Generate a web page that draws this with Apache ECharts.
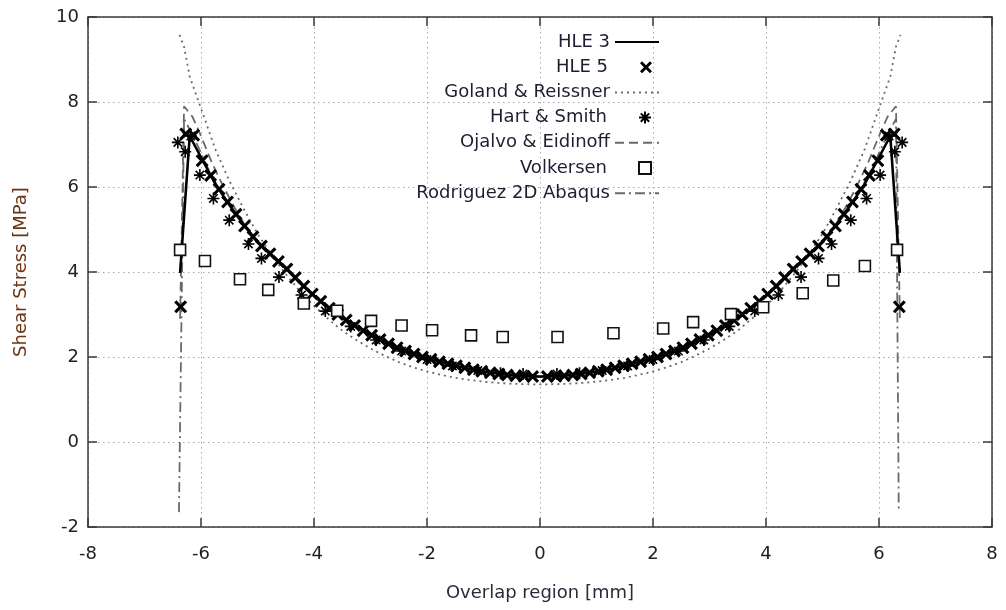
<!DOCTYPE html>
<html>
<head>
<meta charset="utf-8">
<script src="https://cdn.jsdelivr.net/npm/echarts@6/dist/echarts.min.js"></script>
<style>html,body{margin:0;padding:0;background:#fff}#c{width:1006px;height:610px}</style>
</head>
<body>
<div id="c"></div>
<script>
// ---- data ----
const xTicks = [-8, -6, -4, -2, 0, 2, 4, 6, 8];
const yTicks = [-2, 0, 2, 4, 6, 8, 10];

const hle3X = [-6.37,-6.2,-6.0,-5.75,-5.5,-5.25,-5.0,-4.75,-4.5,-4.25,-4.0,-3.75,-3.5,-3.25,-3.0,-2.75,-2.5,-2.25,-2.0,-1.75,-1.5,-1.25,-1.0,-0.75,-0.5,-0.25,0,
  0.25,0.5,0.75,1.0,1.25,1.5,1.75,2.0,2.25,2.5,2.75,3.0,3.25,3.5,3.75,4.0,4.25,4.5,4.75,5.0,5.25,5.5,5.75,6.0,6.2,6.37];
const hle3Y = [3.98,7.2,6.7,6.08,5.58,5.12,4.71,4.40,4.09,3.74,3.44,3.17,2.93,2.72,2.53,2.35,2.20,2.08,1.97,1.88,1.80,1.72,1.66,1.61,1.57,1.55,1.54,
  1.55,1.57,1.61,1.66,1.72,1.80,1.88,1.97,2.08,2.20,2.35,2.53,2.72,2.93,3.17,3.44,3.74,4.09,4.40,4.71,5.12,5.58,6.08,6.7,7.2,3.98];

const hle5X = [-6.36,-6.27,-6.13,-5.98,-5.83,-5.68,-5.53,-5.38,-5.23,-5.08,-4.93,-4.78,-4.63,-4.48,-4.33,-4.18,-4.03,-3.88,-3.73,-3.58,-3.43,-3.28,-3.13,-2.98,-2.83,-2.68,-2.53,-2.38,-2.23,-2.08,-1.93,-1.78,-1.63,-1.48,-1.33,-1.18,-1.03,-0.88,-0.73,-0.58,-0.43,-0.28,-0.13,
  0.13,0.28,0.43,0.58,0.73,0.88,1.03,1.18,1.33,1.48,1.63,1.78,1.93,2.08,2.23,2.38,2.53,2.68,2.83,2.98,3.13,3.28,3.43,3.58,3.73,3.88,4.03,4.18,4.33,4.48,4.63,4.78,4.93,5.08,5.23,5.38,5.53,5.68,5.83,5.98,6.13,6.27,6.36];
const hle5Y = [3.18,7.25,7.22,6.62,6.27,5.95,5.65,5.36,5.08,4.83,4.61,4.43,4.25,4.07,3.87,3.67,3.48,3.31,3.15,3.00,2.87,2.74,2.62,2.51,2.41,2.31,2.22,2.14,2.07,2.00,1.945,1.89,1.84,1.795,1.745,1.70,1.665,1.63,1.60,1.575,1.56,1.545,1.54,
  1.54,1.545,1.56,1.575,1.60,1.63,1.665,1.70,1.745,1.795,1.84,1.89,1.945,2.00,2.07,2.14,2.22,2.31,2.41,2.51,2.62,2.74,2.87,3.00,3.15,3.31,3.48,3.67,3.87,4.07,4.25,4.43,4.61,4.83,5.08,5.36,5.65,5.95,6.27,6.62,7.22,7.25,3.18];

const grX = [-6.38,-6.3,-6.2,-6.0,-5.75,-5.5,-5.25,-5.0,-4.75,-4.5,-4.25,-4.0,-3.75,-3.5,-3.25,-3.0,-2.75,-2.5,-2.25,-2.0,-1.75,-1.5,-1.25,-1.0,-0.75,-0.5,-0.25,0,
  0.25,0.5,0.75,1.0,1.25,1.5,1.75,2.0,2.25,2.5,2.75,3.0,3.25,3.5,3.75,4.0,4.25,4.5,4.75,5.0,5.25,5.5,5.75,6.0,6.2,6.3,6.38];
const grY = [9.58,9.3,8.6,7.85,6.9,6.15,5.5,4.9,4.4,3.95,3.55,3.2,2.9,2.62,2.4,2.2,2.03,1.88,1.76,1.66,1.58,1.51,1.46,1.42,1.39,1.37,1.36,1.355,
  1.36,1.37,1.39,1.42,1.46,1.51,1.58,1.66,1.76,1.88,2.03,2.2,2.4,2.62,2.9,3.2,3.55,3.95,4.4,4.9,5.5,6.15,6.9,7.85,8.6,9.3,9.58];

const hsX = [-6.41,-6.28,-6.18,-6.02,-5.78,-5.5,-5.16,-4.93,-4.62,-4.22,-3.8,-3.35,-2.9,-2.45,-2.0,-1.55,-1.1,-0.7,-0.3,
  0.3,0.7,1.1,1.55,2.0,2.45,2.9,3.35,3.8,4.22,4.62,4.93,5.16,5.5,5.78,6.02,6.18,6.28,6.41];
const hsY = [7.05,6.83,7.2,6.28,5.73,5.22,4.66,4.32,3.88,3.46,3.08,2.72,2.40,2.14,1.94,1.79,1.68,1.62,1.60,
  1.60,1.62,1.68,1.79,1.94,2.14,2.40,2.72,3.08,3.46,3.88,4.32,4.66,5.22,5.73,6.28,7.2,6.83,7.05];

const oeX = [-6.37,-6.3,-6.15,-6.0,-5.8,-5.6,-5.4,-5.2,-5.0,-4.5,-4.0,-3.5,-3.0,-2.5,-2.0,-1.5,-1.0,-0.5,0,
  0.5,1.0,1.5,2.0,2.5,3.0,3.5,4.0,4.5,5.0,5.2,5.4,5.6,5.8,6.0,6.15,6.3,6.37];
const oeY = [2.9,7.9,7.65,7.2,6.55,6.0,5.5,5.05,4.7,4.07,3.42,2.92,2.52,2.19,1.96,1.79,1.65,1.56,1.53,
  1.56,1.65,1.79,1.96,2.19,2.52,2.92,3.42,4.07,4.7,5.05,5.5,6.0,6.55,7.2,7.65,7.9,2.9];

const volX = [-6.37,-5.93,-5.31,-4.81,-4.18,-3.59,-2.99,-2.45,-1.91,-1.22,-0.66,0.31,1.30,2.18,2.71,3.38,3.95,4.65,5.19,5.75,6.32];
const volY = [4.52,4.26,3.83,3.58,3.26,3.09,2.85,2.74,2.63,2.51,2.47,2.47,2.56,2.67,2.82,3.01,3.17,3.50,3.80,4.14,4.52];

const rodX = [-6.39,-6.3,-6.2,-6.05,-5.9,-5.7,-5.5,-5.0,-4.5,-4.0,-3.5,-3.0,-2.5,-2.0,-1.5,-1.0,-0.5,0,
  0.5,1.0,1.5,2.0,2.5,3.0,3.5,4.0,4.5,5.0,5.5,5.7,5.9,6.05,6.2,6.3,6.35];
const rodY = [-1.65,7.6,7.35,6.95,6.5,6.0,5.58,4.71,4.09,3.44,2.93,2.53,2.2,1.97,1.8,1.66,1.57,1.54,
  1.57,1.66,1.8,1.97,2.2,2.53,2.93,3.44,4.09,4.71,5.58,6.0,6.5,6.95,7.35,7.6,-1.62];

const names = ['HLE 3','HLE 5','Goland & Reissner','Hart & Smith','Ojalvo & Eidinoff','Volkersen','Rodriguez 2D Abaqus'];
const lineNames = ['HLE 3','Goland & Reissner','Ojalvo & Eidinoff','Rodriguez 2D Abaqus'];

// ---- build ----
const pair = (xs, ys) => xs.map((x, i) => [x, ys[i]]);
const FONT = 'DejaVu Sans';
const xSym = 'path://M0,1.7 L1.7,0 L5,3.3 L8.3,0 L10,1.7 L6.7,5 L10,8.3 L8.3,10 L5,6.7 L1.7,10 L0,8.3 L3.3,5 Z';
const starSym = 'path://M5,0 L5,10 M0,5 L10,5 M1.5,1.5 L8.5,8.5 M8.5,1.5 L1.5,8.5';
const sqSym = 'path://M0,0 L10,0 L10,10 L0,10 Z';
const gray = '#6a6a6a';

const chart = echarts.init(document.getElementById('c'), null, {renderer: 'canvas'});

const legends = names.map((n, i) => {
  const isLine = lineNames.indexOf(n) >= 0;
  const lg = {
    data: [n], orient: 'vertical', right: isLine ? 346 : 354, top: 33 + i * 25.2,
    align: 'right', itemWidth: isLine ? 44 : 40, itemHeight: isLine ? 14 : 12, itemGap: 10, padding: 0,
    textStyle: {fontFamily: FONT, fontSize: 18, color: '#1e1e32', padding: isLine ? 0 : [0, 13, 0, 0]},
    selectedMode: false
  };
  if (isLine) lg.itemStyle = {opacity: 0, borderWidth: 0};
  return lg;
});

chart.setOption({
  animation: false,
  backgroundColor: '#fff',
  grid: {left: 88, right: 14, top: 17, bottom: 83, show: false},
  legend: legends,
  xAxis: [
    {
      type: 'value', min: -8, max: 8, interval: 2, position: 'bottom',
      name: 'Overlap region [mm]', nameLocation: 'middle', nameGap: 57,
      nameTextStyle: {fontFamily: FONT, fontSize: 18, color: '#2a2a3a'},
      axisLine: {show: true, onZero: false, lineStyle: {color: '#3a3a3a', width: 1.5}},
      axisTick: {show: true, inside: true, length: 9, lineStyle: {color: '#3a3a3a', width: 1.5}},
      axisLabel: {fontFamily: FONT, fontSize: 18, color: '#222', margin: 18},
      splitLine: {show: true, lineStyle: {color: '#a8a8a8', width: 1, type: [1.5, 3.5]}}
    },
    {
      type: 'value', min: -8, max: 8, interval: 2, position: 'top',
      axisLine: {show: true, onZero: false, lineStyle: {color: '#3a3a3a', width: 1.5}},
      axisTick: {show: true, inside: true, length: 9, lineStyle: {color: '#3a3a3a', width: 1.5}},
      axisLabel: {show: false}, splitLine: {show: false}
    }
  ],
  yAxis: [
    {
      type: 'value', min: -2, max: 10, interval: 2, position: 'left',
      name: 'Shear Stress [MPa]', nameLocation: 'middle', nameGap: 58, nameRotate: 90,
      nameTextStyle: {fontFamily: FONT, fontSize: 18, color: '#6b3412'},
      axisLine: {show: true, onZero: false, lineStyle: {color: '#3a3a3a', width: 1.5}},
      axisTick: {show: true, inside: true, length: 9, lineStyle: {color: '#3a3a3a', width: 1.5}},
      axisLabel: {fontFamily: FONT, fontSize: 18, color: '#222', margin: 9},
      splitLine: {show: true, lineStyle: {color: '#a8a8a8', width: 1, type: [1.5, 3.5]}}
    },
    {
      type: 'value', min: -2, max: 10, interval: 2, position: 'right',
      axisLine: {show: true, onZero: false, lineStyle: {color: '#3a3a3a', width: 1.5}},
      axisTick: {show: true, inside: true, length: 9, lineStyle: {color: '#3a3a3a', width: 1.5}},
      axisLabel: {show: false}, splitLine: {show: false}
    }
  ],
  series: [
    {
      name: 'Goland & Reissner', type: 'line', data: pair(grX, grY), symbol: 'none', z: 2,
      lineStyle: {color: gray, width: 1.8, type: [2, 4]}, itemStyle: {color: gray}
    },
    {
      name: 'Ojalvo & Eidinoff', type: 'line', data: pair(oeX, oeY), symbol: 'none', z: 2,
      lineStyle: {color: gray, width: 1.8, type: [9, 5]}, itemStyle: {color: gray}
    },
    {
      name: 'Rodriguez 2D Abaqus', type: 'line', data: pair(rodX, rodY), symbol: 'none', z: 2,
      lineStyle: {color: gray, width: 1.8, type: [10, 4, 2, 4]}, itemStyle: {color: gray}
    },
    {
      name: 'HLE 3', type: 'line', data: pair(hle3X, hle3Y), symbol: 'none', z: 4,
      lineStyle: {color: '#000', width: 2.6}, itemStyle: {color: '#000'}
    },
    {
      name: 'HLE 5', type: 'scatter', data: pair(hle5X, hle5Y), symbol: xSym, symbolSize: 13, z: 5,
      itemStyle: {color: '#000', opacity: 1}
    },
    {
      name: 'Hart & Smith', type: 'scatter', data: pair(hsX, hsY), symbol: starSym, symbolSize: 12, z: 5,
      itemStyle: {color: 'transparent', borderColor: '#000', borderWidth: 1.6, opacity: 1}
    },
    {
      name: 'Volkersen', type: 'scatter', data: pair(volX, volY), symbol: sqSym, symbolSize: 11, z: 5,
      itemStyle: {color: '#fff', borderColor: '#111', borderWidth: 1.6, opacity: 1}
    }
  ]
});
</script>
</body>
</html>
